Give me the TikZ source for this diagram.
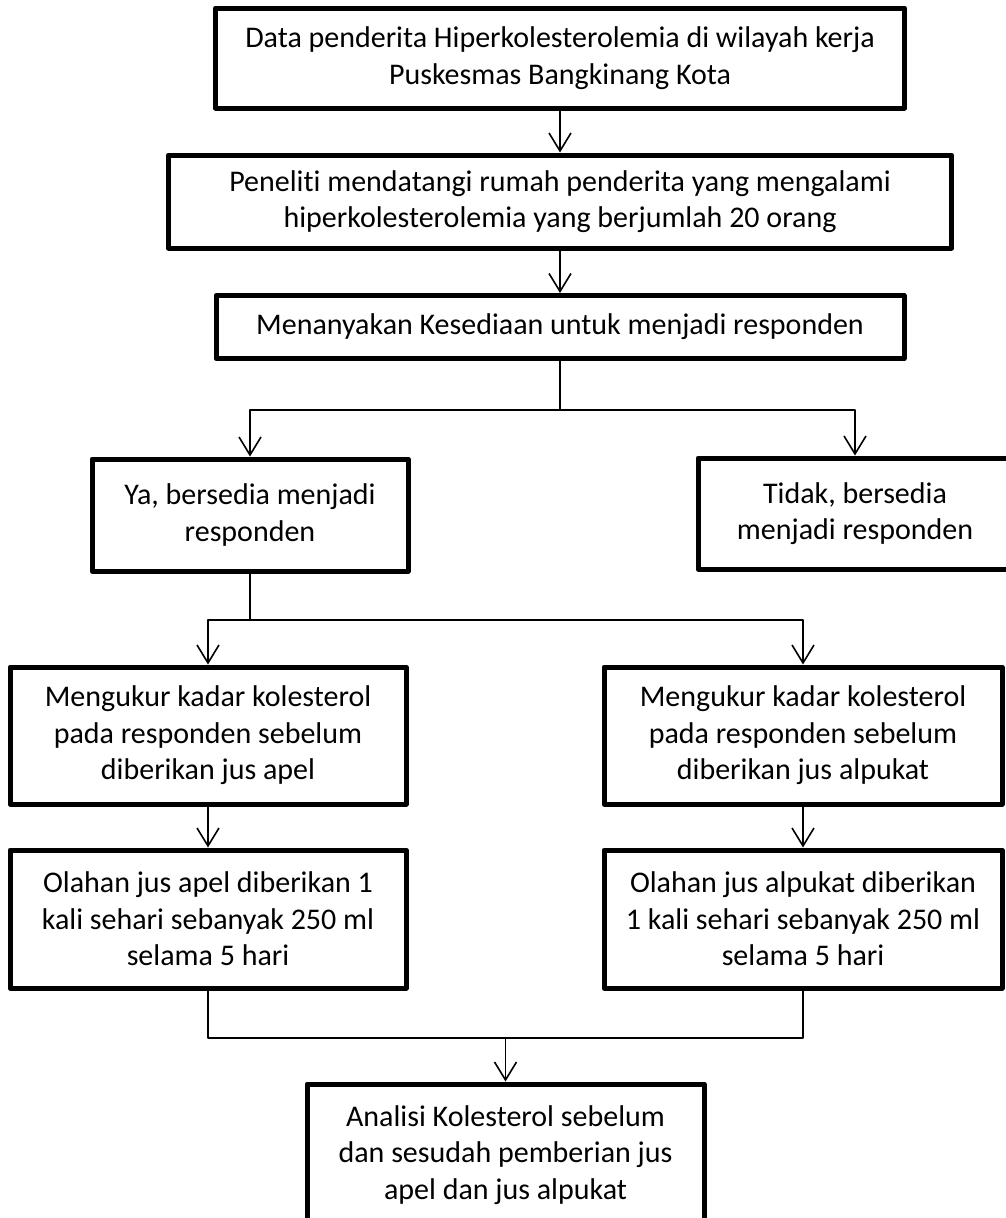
\documentclass[tikz,border=0pt]{standalone}
\usepackage{fontspec}
\setmainfont{Carlito}[Ligatures=NoCommon]
\usetikzlibrary{arrows.meta}
\begin{document}
\begin{tikzpicture}[x=1pt, y=-1pt, line cap=round, line join=round,
    box/.style={draw, line width=5pt, align=center, inner sep=0pt,
      font=\fontsize{30}{36.5}\selectfont},
    arr/.style={line width=1.6pt, -{Straight Barb[length=18pt,width=22pt,line width=1.6pt]}},
    link/.style={line width=1.6pt}]
    \useasboundingbox (0,0) rectangle (1006,1218);
    % alur penelitian
    \node[box, minimum width=689pt, minimum height=100pt] (data) at (560,58)
      {Data penderita Hiperkolesterolemia di wilayah kerja\\Puskesmas Bangkinang Kota};
    \node[box, minimum width=783pt, minimum height=93pt] (peneliti) at (560,201.5)
      {Peneliti mendatangi rumah penderita yang mengalami\\hiperkolesterolemia yang berjumlah 20 orang};
    \node[box, minimum width=688pt, minimum height=63pt] (tanya) at (560,327)
      {Menanyakan Kesediaan untuk menjadi responden};
    \node[box, minimum width=316pt, minimum height=112pt] (ya) at (250,515)
      {Ya, bersedia menjadi\\responden};
    \node[box, minimum width=314pt, minimum height=111pt] (tidak) at (855,513.5)
      {Tidak, bersedia\\menjadi responden};
    \node[box, minimum width=396pt, minimum height=137pt] (ukur1) at (208,735.5)
      {Mengukur kadar kolesterol\\pada responden sebelum\\diberikan jus apel};
    \node[box, minimum width=398pt, minimum height=137pt] (ukur2) at (803,735.5)
      {Mengukur kadar kolesterol\\pada responden sebelum\\diberikan jus alpukat};
    \node[box, minimum width=396pt, minimum height=138pt] (olah1) at (208,919)
      {Olahan jus apel diberikan 1\\kali sehari sebanyak 250 ml\\selama 5 hari};
    \node[box, minimum width=398pt, minimum height=138pt] (olah2) at (803,919)
      {Olahan jus alpukat diberikan\\1 kali sehari sebanyak 250 ml\\selama 5 hari};
    \node[box, minimum width=397pt, minimum height=142pt] (analisis) at (505.5,1155)
      {Analisi Kolesterol sebelum\\dan sesudah pemberian jus\\apel dan jus alpukat};

    \draw[arr] (data) -- (peneliti);
    \draw[arr] (peneliti) -- (tanya);
    \coordinate (s1) at (560,410);
    \draw[link] (tanya) -- (s1);
    \draw[arr] (s1) -| (ya);
    \draw[arr] (s1) -| (tidak);
    \coordinate (s2) at (250,620);
    \draw[link] (ya) -- (s2);
    \draw[arr] (s2) -| (ukur1);
    \draw[arr] (s2) -| (ukur2);
    \draw[arr] (ukur1) -- (olah1);
    \draw[arr] (ukur2) -- (olah2);
    \coordinate (m) at (505.5,1038);
    \draw[link] (olah1) |- (m) -| (olah2);
    \draw[arr] (m) -- (analisis);
\end{tikzpicture}
\end{document}
